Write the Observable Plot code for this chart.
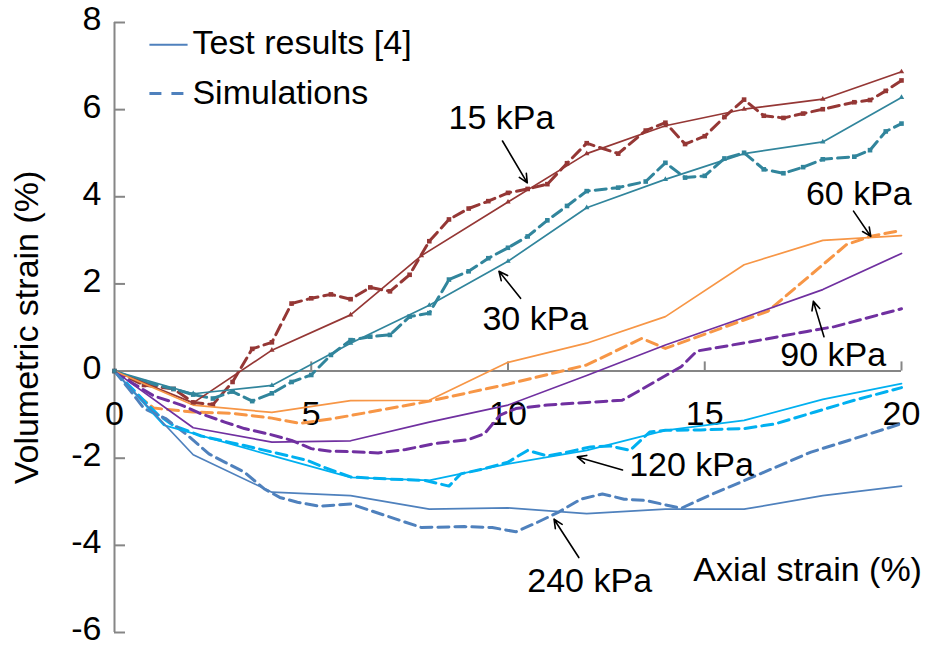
<!DOCTYPE html>
<html>
<head>
<meta charset="utf-8">
<script src="https://cdn.jsdelivr.net/npm/d3@7"></script>
<script src="https://cdn.jsdelivr.net/npm/@observablehq/plot@0.6"></script>
<style>
  html, body { margin: 0; padding: 0; background: #fff; }
</style>
</head>
<body>
<div id="chart"></div>
<script>
// Confining pressures and their colours
const pressures = ["15 kPa", "30 kPa", "60 kPa", "90 kPa", "120 kPa", "240 kPa"];
const colours = ["#953735", "#31859C", "#F79646", "#7030A0", "#00B0F0", "#4F81BD"];

// Test results: axial strain (%) and volumetric strain (%)
const testStrain = [0, 2, 4, 6, 8, 10, 12, 14, 16, 18, 20];
const testStrain15 = [0, 2, 4, 6, 7.8, 10, 12, 14, 16, 18, 20];
const testStrain120 = [0, 1.25, 4, 6, 8, 10, 12, 14, 16, 18, 20];
const test15 = [0, -0.73, 0.48, 1.29, 2.65, 3.88, 4.99, 5.63, 6.01, 6.24, 6.87];
const test30 = [0, -0.52, -0.33, 0.64, 1.51, 2.52, 3.75, 4.4, 4.99, 5.26, 6.28];
const test60 = [0, -0.78, -0.95, -0.68, -0.67, 0.2, 0.64, 1.25, 2.44, 3.0, 3.11];
const test90 = [0, -1.3, -1.63, -1.6, -1.17, -0.78, -0.1, 0.6, 1.23, 1.87, 2.7];
const test120 = [0, -1.24, -1.94, -2.44, -2.51, -2.13, -1.82, -1.36, -1.13, -0.65, -0.29];
const test240 = [0, -1.92, -2.78, -2.86, -3.17, -3.14, -3.27, -3.17, -3.17, -2.86, -2.64];

// Simulations
const simStrainLow = [0, 0.75, 1.5, 2, 2.5, 3, 3.5, 4, 4.5, 5, 5.5, 6, 6.5, 7, 7.5, 8, 8.5, 9, 9.5, 10,
  10.5, 11, 11.5, 12, 12.8, 13.5, 14, 14.5, 15, 15.5, 16, 16.5, 17, 17.5, 18, 18.8, 19.2, 19.6, 20];
const sim15 = [0, -0.32, -0.41, -0.72, -0.77, -0.25, 0.51, 0.66, 1.55, 1.67, 1.76, 1.65, 1.92, 1.83, 2.21,
  2.98, 3.48, 3.73, 3.9, 4.09, 4.18, 4.29, 4.77, 5.23, 4.99, 5.52, 5.7, 5.21, 5.39, 5.83, 6.23, 5.86, 5.81,
  5.91, 6.01, 6.17, 6.22, 6.43, 6.67];
const sim30 = [0, -0.25, -0.41, -0.54, -0.63, -0.47, -0.69, -0.51, -0.25, -0.09, 0.37, 0.71, 0.79, 0.83,
  1.25, 1.33, 2.1, 2.29, 2.59, 2.83, 3.09, 3.46, 3.79, 4.13, 4.21, 4.35, 4.78, 4.44, 4.48, 4.88, 5.01, 4.63,
  4.54, 4.68, 4.86, 4.92, 5.07, 5.5, 5.68];
const simStrain60 = [0, 0.5, 1, 2, 3, 4, 4.7, 5.5, 6, 8, 10, 12, 13.4, 14, 16.6, 17.2, 18, 18.6, 19.2, 20];
const sim60 = [0, -0.5, -0.85, -0.94, -0.97, -1.08, -1.2, -1.1, -1.02, -0.69, -0.3, 0.14, 0.75, 0.52, 1.37,
  1.83, 2.44, 2.9, 3.09, 3.23];
const simStrain90 = [0, 0.5, 1, 1.7, 2.2, 2.8, 3.3, 3.9, 4.5, 5, 5.5, 6, 6.7, 7.4, 8.1, 9, 9.4, 9.8, 10.2,
  11, 12, 12.9, 13.2, 13.8, 14.4, 14.8, 15.2, 16.4, 17.6, 18.3, 20];
const sim90 = [0, -0.3, -0.57, -0.78, -0.98, -1.17, -1.32, -1.44, -1.59, -1.78, -1.84, -1.85, -1.88, -1.8,
  -1.67, -1.57, -1.44, -1.01, -0.86, -0.78, -0.72, -0.67, -0.52, -0.21, 0.1, 0.46, 0.52, 0.71, 0.91, 1.02, 1.43];
const simStrain120 = [0, 0.5, 1.1, 1.5, 2.2, 3.3, 4.4, 4.9, 5.3, 6, 7, 7.9, 8.5, 8.8, 9.4, 10, 10.5, 11,
  11.5, 12.1, 12.6, 13.1, 13.6, 14, 14.9, 16, 16.8, 17.8, 18.8, 20];
const sim120 = [0, -0.45, -1.0, -1.25, -1.49, -1.71, -1.94, -2.05, -2.2, -2.43, -2.48, -2.51, -2.64, -2.36,
  -2.24, -2.09, -1.82, -1.95, -1.86, -1.74, -1.72, -1.82, -1.4, -1.36, -1.35, -1.32, -1.21, -0.94, -0.67, -0.38];
const simStrain240 = [0, 0.4, 0.75, 1.3, 1.85, 2.4, 2.8, 3.3, 3.8, 4.2, 4.65, 5.2, 6, 6.9, 7.8, 8.9, 9.6,
  10.2, 10.75, 11.3, 11.85, 12.4, 12.95, 13.5, 14.4, 15.1, 16.3, 17.7, 18.8, 20];
const sim240 = [0, -0.45, -0.86, -1.09, -1.47, -1.9, -2.09, -2.32, -2.7, -2.9, -3.01, -3.1, -3.05, -3.32,
  -3.59, -3.57, -3.59, -3.69, -3.47, -3.23, -2.94, -2.82, -2.94, -2.97, -3.15, -2.86, -2.4, -1.86, -1.55, -1.21];

// Axis ticks
const xTicks = [0, 5, 10, 15, 20];
const yTicks = [-6, -4, -2, 0, 2, 4, 6, 8];

// Pressure labels and their pointer arrows (axis units)
const labelX = [8.49, 9.35, 17.57, 16.92, 13.08, 10.49];
const labelY = [5.8, 1.19, 4.06, 0.37, -2.15, -4.82];
const arrowX1 = [9.86, 10.32, 18.78, 18.03, 12.91, 11.8];
const arrowY1 = [5.28, 1.67, 3.67, 0.79, -2.27, -4.28];
const arrowX2 = [10.49, 9.77, 19.22, 17.76, 11.76, 11.17];
const arrowY2 = [4.32, 2.29, 3.09, 1.6, -1.97, -3.4];

// Build long tables
const series = (p, xs, ys) => xs.map((x, i) => ({pressure: p, strain: x, vol: ys[i]}));
const testRows = [
  ...series("15 kPa", testStrain15, test15),
  ...series("30 kPa", testStrain, test30),
  ...series("60 kPa", testStrain, test60),
  ...series("90 kPa", testStrain, test90),
  ...series("120 kPa", testStrain120, test120),
  ...series("240 kPa", testStrain, test240)
];
const simRows = [
  ...series("15 kPa", simStrainLow, sim15),
  ...series("30 kPa", simStrainLow, sim30),
  ...series("60 kPa", simStrain60, sim60),
  ...series("90 kPa", simStrain90, sim90),
  ...series("120 kPa", simStrain120, sim120),
  ...series("240 kPa", simStrain240, sim240)
];
const lowPressure = d => d.pressure === "15 kPa" || d.pressure === "30 kPa";
const labels = pressures.map((p, i) => ({text: p, x: labelX[i], y: labelY[i]}));
const arrows = pressures.map((p, i) => ({x1: arrowX1[i], y1: arrowY1[i], x2: arrowX2[i], y2: arrowY2[i]}));

const axisGrey = "#868686";
const font = "'Liberation Sans', Arial, sans-serif";
const dash = "11,6";

const chart = Plot.plot({
  width: 929,
  height: 648,
  marginLeft: 114,
  marginRight: 28,
  marginTop: 22,
  marginBottom: 16,
  style: {fontFamily: font, fontSize: "34px", background: "#fff", overflow: "visible", color: "#000"},
  x: {domain: [0, 20], axis: null},
  y: {domain: [-6, 8], axis: null},
  color: {domain: pressures, range: colours},
  marks: [
    // axes
    Plot.ruleX([0], {stroke: axisGrey, strokeWidth: 2}),
    Plot.ruleY([0], {stroke: axisGrey, strokeWidth: 2}),
    Plot.ruleY(yTicks, {y: d => d, x1: 0, x2: 0.28, stroke: axisGrey, strokeWidth: 2}),
    Plot.ruleX(xTicks.filter(d => d > 0), {x: d => d, y1: 0, y2: 0.21, stroke: axisGrey, strokeWidth: 2}),
    Plot.text(yTicks, {x: 0, y: d => d, text: d => String(d), textAnchor: "end", dx: -13, dy: -3, fill: "#000"}),
    Plot.text(xTicks, {x: d => d, y: 0, text: d => String(d), dy: 43, fill: "#000"}),
    Plot.text(["Volumetric strain (%)"], {x: 0, y: 1.0, text: d => d, rotate: -90, dx: -87, fill: "#000"}),
    Plot.text(["Axial strain (%)"], {x: 14.71, y: -4.56, text: d => d, textAnchor: "start", fill: "#000"}),

    // simulations (dashed)
    Plot.line(simRows, {x: "strain", y: "vol", z: "pressure", stroke: "pressure", strokeWidth: 3,
      strokeDasharray: dash, curve: "linear"}),
    Plot.dot(simRows.filter(lowPressure), {x: "strain", y: "vol", fill: "pressure", symbol: "square", r: 2.6}),

    // test results (solid)
    Plot.line(testRows, {x: "strain", y: "vol", z: "pressure", stroke: "pressure", strokeWidth: 1.7}),
    Plot.dot(testRows.filter(lowPressure), {x: "strain", y: "vol", fill: "pressure", symbol: "triangle", r: 2}),

    // pressure labels and pointers
    Plot.arrow(arrows, {x1: "x1", y1: "y1", x2: "x2", y2: "y2", stroke: "#000", strokeWidth: 1.6,
      headLength: 9, headAngle: 50}),
    Plot.text(labels, {x: "x", y: "y", text: "text", textAnchor: "start", fill: "#000"}),

    // legend
    Plot.ruleY([7.49], {x1: 0.9, x2: 1.87, stroke: "#4F81BD", strokeWidth: 2}),
    Plot.ruleY([6.37], {x1: 0.9, x2: 1.8, stroke: "#4F81BD", strokeWidth: 3, strokeDasharray: "12,10"}),
    Plot.text(["Test results [4]"], {x: 1.98, y: 7.52, text: d => d, textAnchor: "start", fill: "#000"}),
    Plot.text(["Simulations"], {x: 1.98, y: 6.39, text: d => d, textAnchor: "start", fill: "#000"})
  ]
});

document.getElementById("chart").append(chart);
</script>
</body>
</html>
